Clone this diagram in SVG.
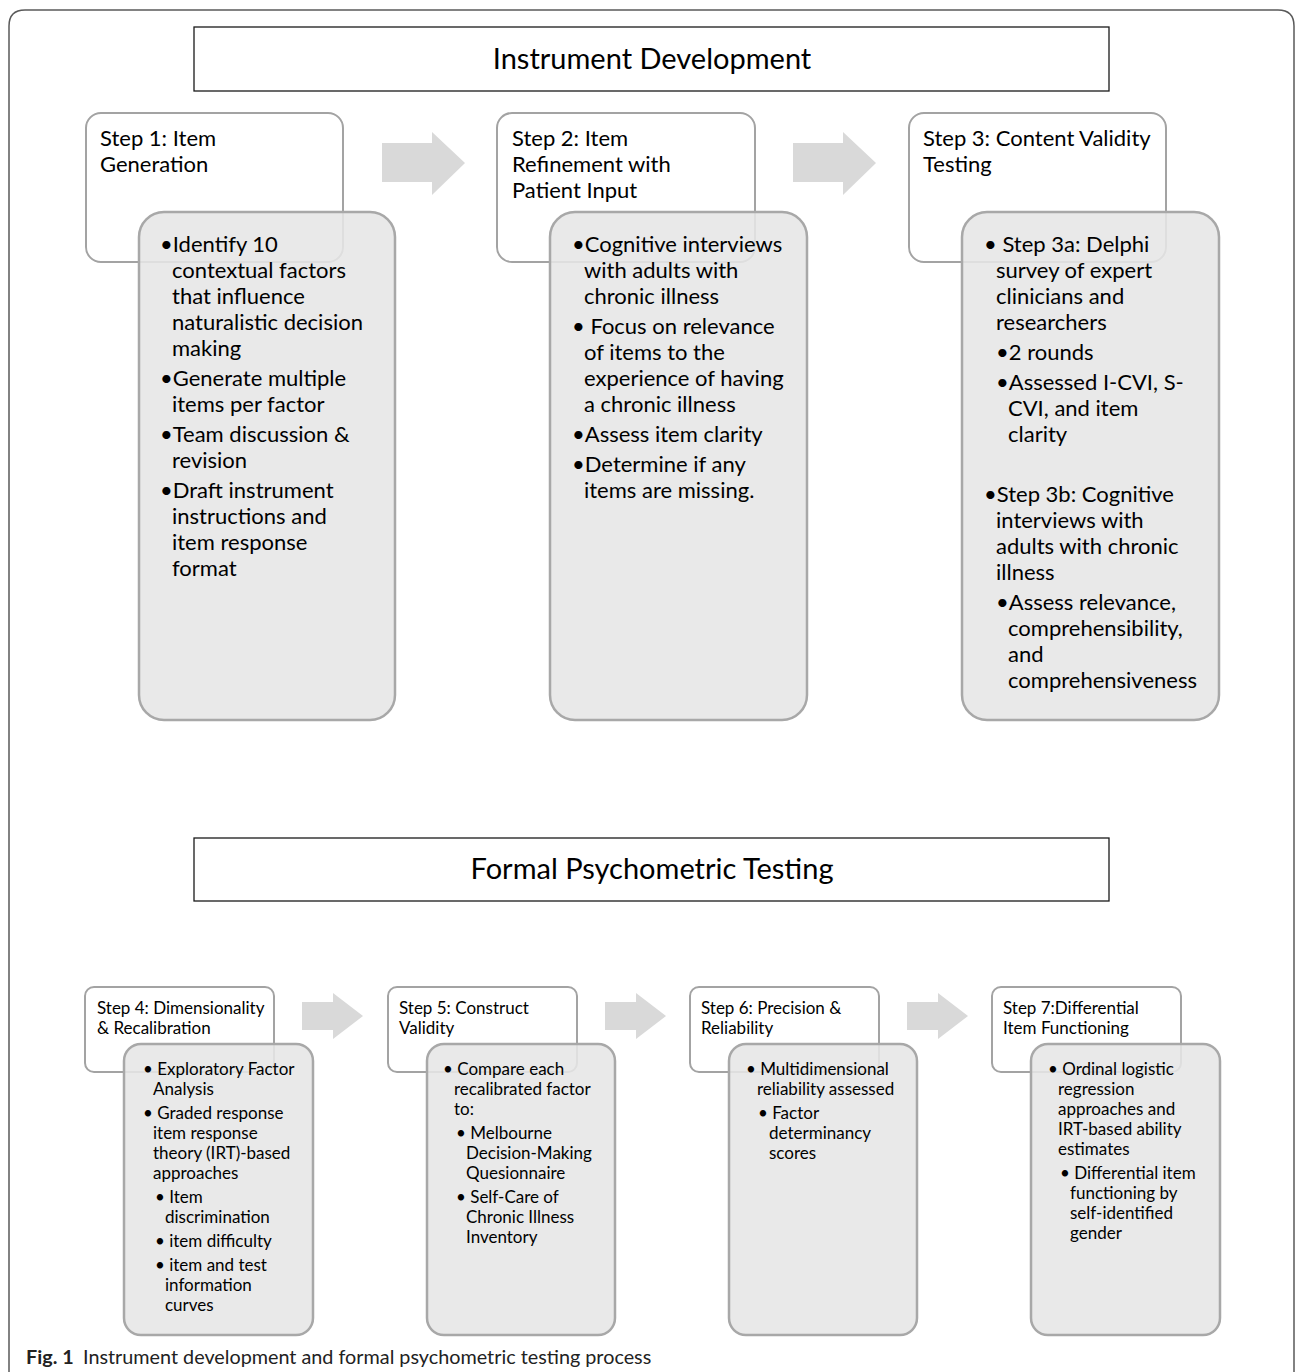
<svg xmlns="http://www.w3.org/2000/svg" width="1295" height="1372" viewBox="0 0 1295 1372">
<style>
.frame{fill:none;stroke:#5a5a5a;stroke-width:1.5}
.title{fill:#fff;stroke:#1a1a1a;stroke-width:1.3}
.tt{font-family:Lato,"Liberation Sans",sans-serif;font-size:29px;fill:#000;text-anchor:middle}
.step{fill:#fff;stroke:#a3a3a3;stroke-width:2}
.bul{fill:#e6e6e6;fill-opacity:0.88;stroke:#a8a8a8;stroke-width:2.5}
.t1{font-family:Lato,"Liberation Sans",sans-serif;font-size:22px;fill:#000}
.t2{font-family:Lato,"Liberation Sans",sans-serif;font-size:17px;fill:#000}
.arr{fill:#d9d9d9}
.cap{font-family:Lato,"Liberation Sans",sans-serif;font-size:19.8px;fill:#222}
</style>
<rect width="1295" height="1372" fill="#fff"/>
<path class="frame" d="M9,1372 V26 Q9,10 25,10 H1278 Q1294,10 1294,26 V1372"/>

<g id="title-dev">
<rect class="title" x="194" y="27" width="915" height="64"/>
<text class="tt" x="652" y="69">Instrument Development</text>
</g>

<g id="step1">
<rect class="step" x="86" y="113" width="257" height="149" rx="15"/>
<text class="t1"><tspan x="100" y="146">Step 1: Item</tspan><tspan x="100" y="172">Generation</tspan></text>
<rect class="bul" x="139" y="212" width="256" height="508" rx="25"/>
<text class="t1"><tspan x="160" y="252">•Identify 10</tspan><tspan x="172" y="278">contextual factors</tspan><tspan x="172" y="304">that influence</tspan><tspan x="172" y="330">naturalistic decision</tspan><tspan x="172" y="356">making</tspan><tspan x="160" y="386">•Generate multiple</tspan><tspan x="172" y="412">items per factor</tspan><tspan x="160" y="442">•Team discussion &amp;</tspan><tspan x="172" y="468">revision</tspan><tspan x="160" y="498">•Draft instrument</tspan><tspan x="172" y="524">instructions and</tspan><tspan x="172" y="550">item response</tspan><tspan x="172" y="576">format</tspan></text>
</g>

<g id="step2">
<rect class="step" x="497" y="113" width="258" height="149" rx="15"/>
<text class="t1"><tspan x="512" y="146">Step 2: Item</tspan><tspan x="512" y="172">Refinement with</tspan><tspan x="512" y="198">Patient Input</tspan></text>
<rect class="bul" x="550" y="212" width="257" height="508" rx="25"/>
<text class="t1"><tspan x="572" y="252">•Cognitive interviews</tspan><tspan x="584" y="278">with adults with</tspan><tspan x="584" y="304">chronic illness</tspan><tspan x="572" y="334">• Focus on relevance</tspan><tspan x="584" y="360">of items to the</tspan><tspan x="584" y="386">experience of having</tspan><tspan x="584" y="412">a chronic illness</tspan><tspan x="572" y="442">•Assess item clarity</tspan><tspan x="572" y="472">•Determine if any</tspan><tspan x="584" y="498">items are missing.</tspan></text>
</g>

<g id="step3">
<rect class="step" x="909" y="113" width="257" height="149" rx="15"/>
<text class="t1"><tspan x="923" y="146">Step 3: Content Validity</tspan><tspan x="923" y="172">Testing</tspan></text>
<rect class="bul" x="962" y="212" width="257" height="508" rx="25"/>
<text class="t1"><tspan x="984" y="252">• Step 3a: Delphi</tspan><tspan x="996" y="278">survey of expert</tspan><tspan x="996" y="304">clinicians and</tspan><tspan x="996" y="330">researchers</tspan><tspan x="996" y="360">•2 rounds</tspan><tspan x="996" y="390">•Assessed I-CVI, S-</tspan><tspan x="1008" y="416">CVI, and item</tspan><tspan x="1008" y="442">clarity</tspan><tspan x="984" y="502">•Step 3b: Cognitive</tspan><tspan x="996" y="528">interviews with</tspan><tspan x="996" y="554">adults with chronic</tspan><tspan x="996" y="580">illness</tspan><tspan x="996" y="610">•Assess relevance,</tspan><tspan x="1008" y="636">comprehensibility,</tspan><tspan x="1008" y="662">and</tspan><tspan x="1008" y="688">comprehensiveness</tspan></text>
</g>

<g id="title-psy">
<rect class="title" x="194" y="838" width="915" height="63"/>
<text class="tt" x="652" y="879">Formal Psychometric Testing</text>
</g>

<g id="step4">
<rect class="step" x="85" y="987" width="189" height="85" rx="9"/>
<text class="t2"><tspan x="97" y="1014">Step 4: Dimensionality</tspan><tspan x="97" y="1034">&amp; Recalibration</tspan></text>
<rect class="bul" x="124" y="1044" width="189" height="291" rx="17"/>
<text class="t2"><tspan x="143" y="1075">• Exploratory Factor</tspan><tspan x="153" y="1095">Analysis</tspan><tspan x="143" y="1119">• Graded response</tspan><tspan x="153" y="1139">item response</tspan><tspan x="153" y="1159">theory (IRT)-based</tspan><tspan x="153" y="1179">approaches</tspan><tspan x="155" y="1203">• Item</tspan><tspan x="165" y="1223">discrimination</tspan><tspan x="155" y="1247">• item difficulty</tspan><tspan x="155" y="1271">• item and test</tspan><tspan x="165" y="1291">information</tspan><tspan x="165" y="1311">curves</tspan></text>
</g>

<g id="step5">
<rect class="step" x="388" y="987" width="189" height="85" rx="9"/>
<text class="t2"><tspan x="399" y="1014">Step 5: Construct</tspan><tspan x="399" y="1034">Validity</tspan></text>
<rect class="bul" x="427" y="1044" width="188" height="291" rx="17"/>
<text class="t2"><tspan x="443" y="1075">• Compare each</tspan><tspan x="454" y="1095">recalibrated factor</tspan><tspan x="454" y="1115">to:</tspan><tspan x="456" y="1139">• Melbourne</tspan><tspan x="466" y="1159">Decision-Making</tspan><tspan x="466" y="1179">Quesionnaire</tspan><tspan x="456" y="1203">• Self-Care of</tspan><tspan x="466" y="1223">Chronic Illness</tspan><tspan x="466" y="1243">Inventory</tspan></text>
</g>

<g id="step6">
<rect class="step" x="690" y="987" width="189" height="85" rx="9"/>
<text class="t2"><tspan x="701" y="1014">Step 6: Precision &amp;</tspan><tspan x="701" y="1034">Reliability</tspan></text>
<rect class="bul" x="729" y="1044" width="188" height="291" rx="17"/>
<text class="t2"><tspan x="746" y="1075">•  Multidimensional</tspan><tspan x="757" y="1095">reliability assessed</tspan><tspan x="758" y="1119">• Factor</tspan><tspan x="769" y="1139">determinancy</tspan><tspan x="769" y="1159">scores</tspan></text>
</g>

<g id="step7">
<rect class="step" x="992" y="987" width="189" height="85" rx="9"/>
<text class="t2"><tspan x="1003" y="1014">Step 7:Differential</tspan><tspan x="1003" y="1034">Item Functioning</tspan></text>
<rect class="bul" x="1031" y="1044" width="189" height="291" rx="17"/>
<text class="t2"><tspan x="1048" y="1075">• Ordinal logistic</tspan><tspan x="1058" y="1095">regression</tspan><tspan x="1058" y="1115">approaches and</tspan><tspan x="1058" y="1135">IRT-based ability</tspan><tspan x="1058" y="1155">estimates</tspan><tspan x="1060" y="1179">• Differential item</tspan><tspan x="1070" y="1199">functioning by</tspan><tspan x="1070" y="1219">self-identified</tspan><tspan x="1070" y="1239">gender</tspan></text>
</g>

<g id="connectors">
<path class="arr" d="M382,143 H432 V132 L465,163 L432,195 V182 H382 Z"/>
<path class="arr" d="M793,143 H843 V132 L876,163 L843,195 V182 H793 Z"/>
<path class="arr" d="M302,1002 H333 V993 L363,1016 L333,1039 V1030 H302 Z"/>
<path class="arr" d="M605,1002 H636 V993 L666,1016 L636,1039 V1030 H605 Z"/>
<path class="arr" d="M907,1002 H938 V993 L968,1016 L938,1039 V1030 H907 Z"/>
</g>

<text class="cap" x="26" y="1364"><tspan font-weight="bold">Fig. 1</tspan><tspan x="83">Instrument development and formal psychometric testing process</tspan></text>
</svg>
